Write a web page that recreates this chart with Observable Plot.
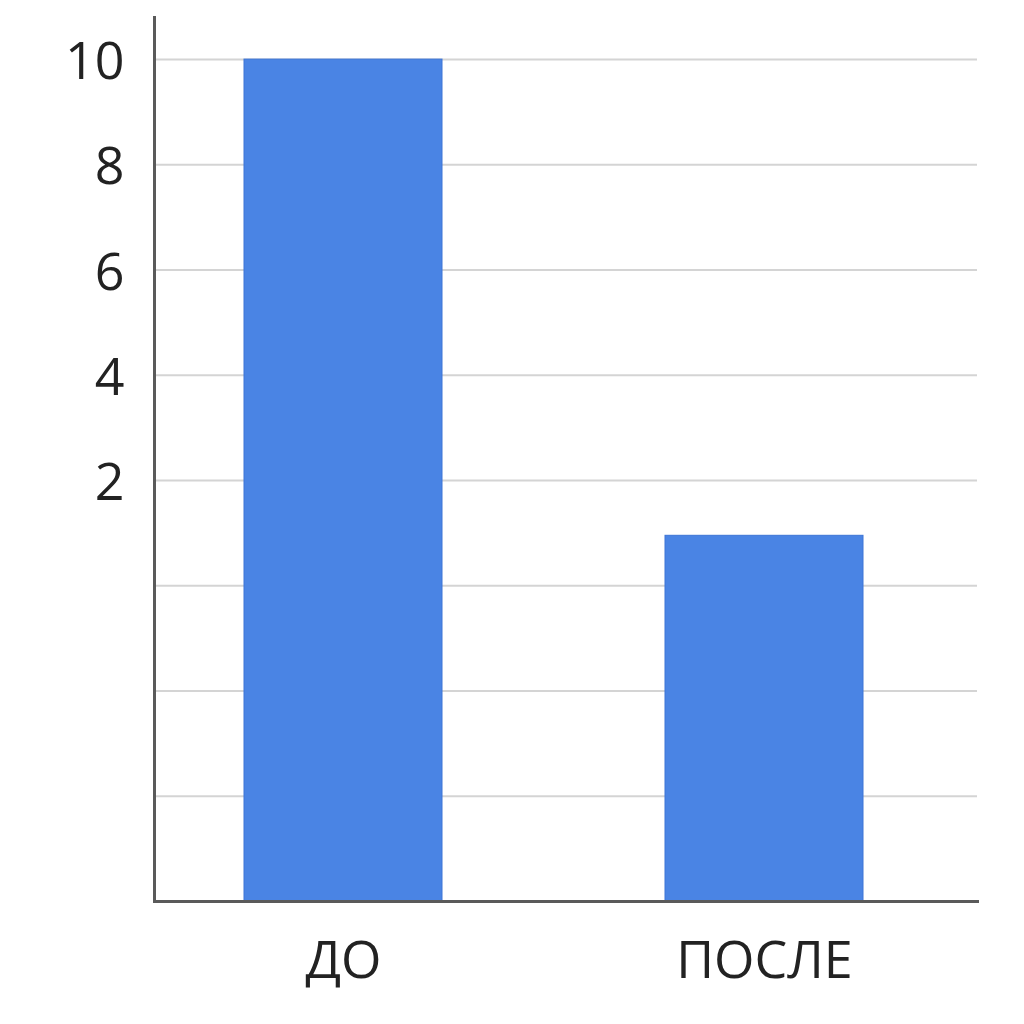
<!DOCTYPE html>
<html>
<head>
<meta charset="utf-8">
<script src="https://cdn.jsdelivr.net/npm/d3@7"></script>
<script src="https://cdn.jsdelivr.net/npm/@observablehq/plot@0.6"></script>
<style>
  html, body { margin: 0; padding: 0; background: #fff; }
  #chart svg { display: block; }
</style>
</head>
<body>
<div id="chart"></div>
<script>
const categories = ["ДО", "ПОСЛЕ"];
const values = [10, 0.95];
const tickLabels = [10, 8, 6, 4, 2];
const gridValues = [10, 8, 6, 4, 2, 0, -2, -4];
const baseline = -6;
const yTop = 10.8;

const data = categories.map((c, i) => ({category: c, value: values[i]}));

const chart = Plot.plot({
  width: 1024,
  height: 1024,
  marginLeft: 154,
  marginRight: 47,
  marginTop: 17,
  marginBottom: 123,
  style: {background: "#fff", fontFamily: "'Open Sans', sans-serif", color: "#222"},
  x: {type: "band", domain: categories, range: [154, 952.5], paddingInner: 0.53, paddingOuter: 0.212, align: 0.5, label: null},
  y: {domain: [baseline, yTop], label: null},
  marks: [
    Plot.ruleY(gridValues, {stroke: "#d4d4d4", strokeWidth: 2}),
    Plot.barY(data, {x: "category", y1: baseline, y2: "value", fill: "#4a84e4", stroke: "#3d74d6", strokeWidth: 1}),
    Plot.frame({anchor: "left", stroke: "#5a5a5a", strokeWidth: 3}),
    Plot.frame({anchor: "bottom", stroke: "#5a5a5a", strokeWidth: 3}),
    Plot.axisY({ticks: tickLabels, tickSize: 0, tickPadding: 30, dy: 3, fontSize: 52, fill: "#222", label: null}),
    Plot.axisX({tickSize: 0, tickPadding: 40, fontSize: 52, fill: "#222", label: null})
  ]
});
document.getElementById("chart").appendChild(chart);
</script>
</body>
</html>
